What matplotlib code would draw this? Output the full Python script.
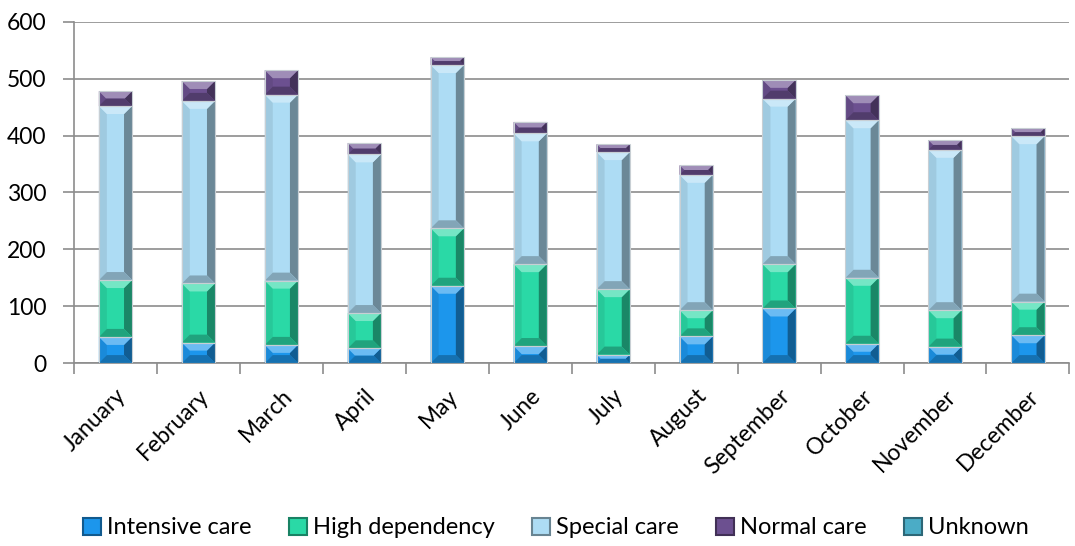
import numpy as np
import matplotlib.pyplot as plt
from matplotlib.patches import Polygon, Rectangle
from matplotlib.colors import to_rgb

months = ['January', 'February', 'March', 'April', 'May', 'June', 'July',
          'August', 'September', 'October', 'November', 'December']
intensive = [46, 36, 32, 26, 136, 30, 15, 47, 96, 34, 29, 49]
high_dep = [100, 104, 113, 62, 101, 144, 115, 46, 78, 116, 64, 59]
special = [306, 321, 327, 279, 287, 230, 241, 238, 291, 277, 282, 291]
normal = [26, 35, 43, 20, 14, 20, 14, 17, 33, 44, 17, 14]
unknown = [0, 0, 0, 0, 0, 0, 0, 0, 0, 0, 0, 0]

series = [('Intensive care', intensive, '#1c96ec'),
          ('High dependency', high_dep, '#2ad9a6'),
          ('Special care', special, '#addcf4'),
          ('Normal care', normal, '#6c5090'),
          ('Unknown', unknown, '#4bacc6')]

plt.rcParams['font.family'] = ['Lato', 'DejaVu Sans']

fig = plt.figure(figsize=(10.75, 5.46), dpi=100)
ax = fig.add_axes([0.0688, 0.335, 0.926, 0.625])

x = np.arange(len(months))
width = 0.4
ax.set_xlim(-0.5, len(months) - 0.5)
ax.set_ylim(0, 600)

# bevel size in pixels -> data units
px_x = 1.0 / (0.926 * 1075 / len(months))
px_y = 600.0 / (0.625 * 546)


def shade(c, f):
    r, g, b = to_rgb(c)
    if f > 1:
        k = f - 1
        return (r + (1 - r) * k, g + (1 - g) * k, b + (1 - b) * k)
    return (r * f, g * f, b * f)


def bevel_bar(x0, y0, w, h, c):
    if h <= 0:
        return
    x1, y1 = x0 + w, y0 + h
    by = min(8 * px_y, h / 2.0)
    bx = 8 * px_x * by / (8 * px_y)
    bx = max(bx, 4 * px_x)
    ax.add_patch(Rectangle((x0, y0), w, h, facecolor=c, edgecolor='none', zorder=3))
    faces = [
        ([(x0, y0), (x0, y1), (x0 + bx, y1 - by), (x0 + bx, y0 + by)], shade(c, 0.92)),
        ([(x1, y0), (x1, y1), (x1 - bx, y1 - by), (x1 - bx, y0 + by)], shade(c, 0.62)),
        ([(x0, y1), (x1, y1), (x1 - bx, y1 - by), (x0 + bx, y1 - by)], shade(c, 1.35)),
        ([(x0, y0), (x1, y0), (x1 - bx, y0 + by), (x0 + bx, y0 + by)], shade(c, 0.75)),
    ]
    for pts, fc in faces:
        ax.add_patch(Polygon(pts, closed=True, facecolor=fc, edgecolor='none', zorder=3))
    ax.add_patch(Rectangle((x0, y0), w, h, facecolor='none',
                           edgecolor='#c8cfd4', linewidth=0.8, zorder=4))


bottom = np.zeros(len(months))
handles = []
for name, vals, col in series:
    vals = np.array(vals, dtype=float)
    for i in range(len(months)):
        bevel_bar(x[i] - width / 2, bottom[i], width, vals[i], col)
    bottom += vals
    handles.append(Rectangle((0, 0), 1, 1, facecolor=col, edgecolor=shade(col, 0.6), linewidth=1.5))

ax.set_yticks(np.arange(0, 601, 100))
ax.yaxis.grid(True, color='#8c8c8c', linewidth=1.2)
ax.set_axisbelow(True)
for s in ['top', 'right']:
    ax.spines[s].set_visible(False)
for s in ['left', 'bottom']:
    ax.spines[s].set_color('#8c8c8c')
    ax.spines[s].set_linewidth(1.2)
ax.tick_params(axis='y', length=8, color='#8c8c8c', width=1.2, labelsize=16.5, pad=12)

ax.set_xticks(x)
ax.set_xticklabels(months, rotation=45, ha='right', rotation_mode='anchor', fontsize=16.5)
ax.set_xticks(np.arange(-0.5, len(months), 1.0), minor=True)
ax.tick_params(axis='x', which='major', length=0, pad=16)
ax.tick_params(axis='x', which='minor', length=8, color='#8c8c8c', width=1.2)

fig.legend(handles, [s[0] for s in series], loc='center', bbox_to_anchor=(0.517, 0.033),
           ncol=5, frameon=False, fontsize=17, handlelength=0.75, handleheight=0.75,
           handletextpad=0.25, columnspacing=1.6)

fig.savefig('out.png', dpi=100)
